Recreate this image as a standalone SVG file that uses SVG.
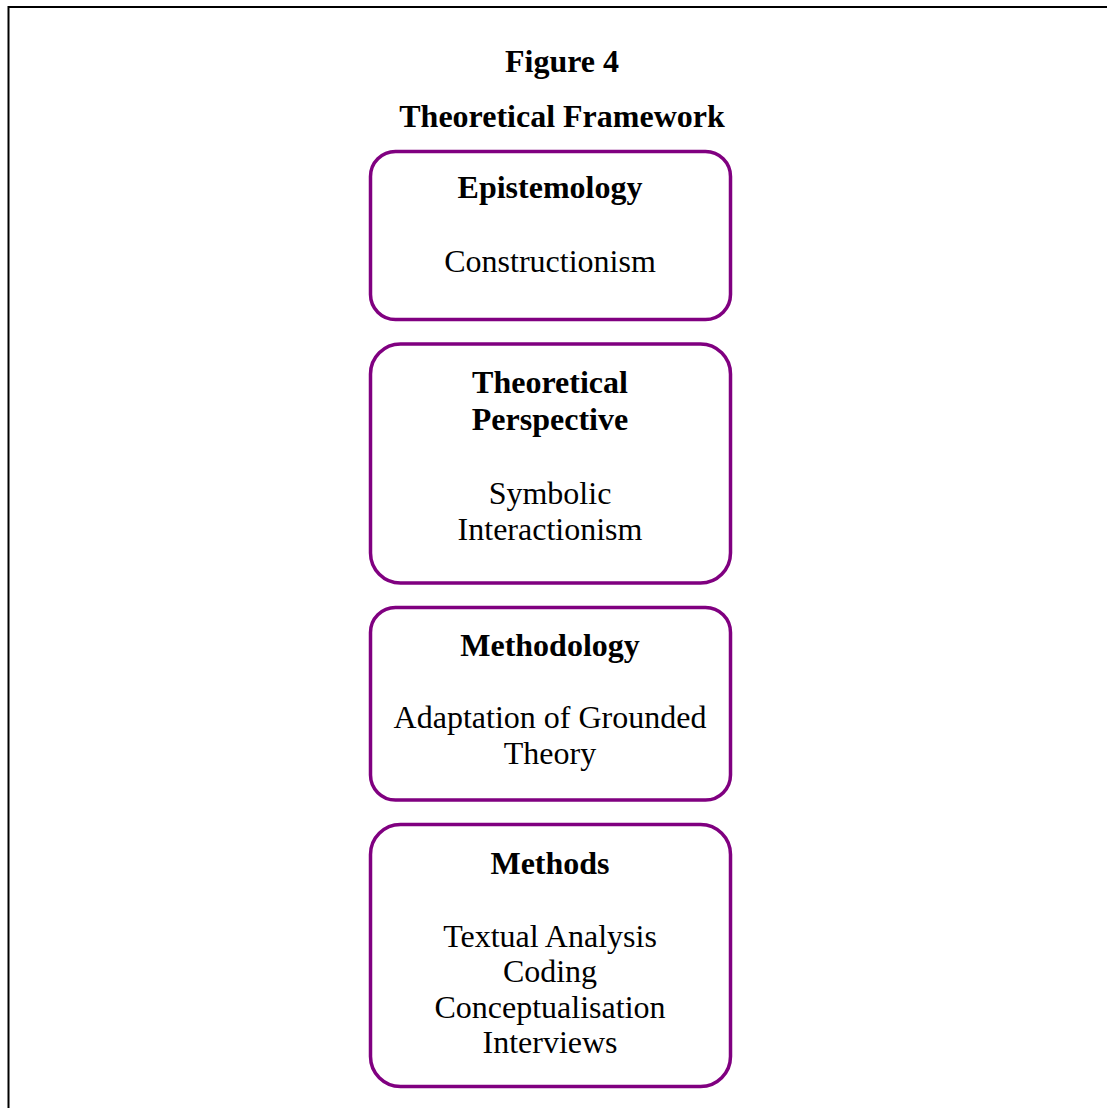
<svg xmlns="http://www.w3.org/2000/svg" width="1107" height="1108" viewBox="0 0 1107 1108">
<style>
.t{font-family:"Liberation Serif","Times New Roman",serif;font-size:32px;fill:#000;text-anchor:middle}
.b{font-weight:bold}
.box{fill:#fff;stroke:#800080;stroke-width:3.5}
</style>
<rect x="0" y="0" width="1107" height="1108" fill="#fff"/>
<rect x="8.5" y="7" width="1120" height="1130" fill="none" stroke="#000" stroke-width="2"/>
<text class="t b" x="562" y="72">Figure 4</text>
<text class="t b" x="562" y="127">Theoretical Framework</text>
<g id="connectors"></g>
<g id="epistemology">
<rect class="box" x="370.5" y="151.5" width="360" height="168" rx="25"/>
<text class="t b" x="550" y="198">Epistemology</text>
<text class="t" x="550" y="272">Constructionism</text>
</g>
<g id="perspective">
<rect class="box" x="370.5" y="344" width="360" height="239" rx="30"/>
<text class="t b" x="550" y="393">Theoretical</text>
<text class="t b" x="550" y="430">Perspective</text>
<text class="t" x="550" y="504">Symbolic</text>
<text class="t" x="550" y="540">Interactionism</text>
</g>
<g id="methodology">
<rect class="box" x="370.5" y="607.5" width="360" height="192.5" rx="25"/>
<text class="t b" x="550" y="656">Methodology</text>
<text class="t" x="550" y="728">Adaptation of Grounded</text>
<text class="t" x="550" y="764">Theory</text>
</g>
<g id="methods">
<rect class="box" x="370.5" y="824.5" width="360" height="262" rx="30"/>
<text class="t b" x="550" y="874">Methods</text>
<text class="t" x="550" y="947">Textual Analysis</text>
<text class="t" x="550" y="982">Coding</text>
<text class="t" x="550" y="1018">Conceptualisation</text>
<text class="t" x="550" y="1053">Interviews</text>
</g>
</svg>
